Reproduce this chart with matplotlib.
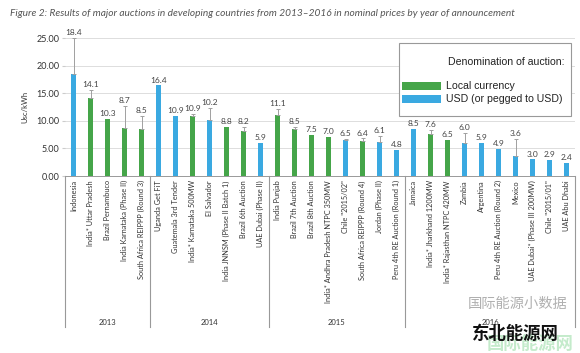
import numpy as np
import matplotlib
matplotlib.use("Agg")
import matplotlib.pyplot as plt
from matplotlib.patches import Rectangle
import matplotlib.transforms as mtransforms

# auction names, values (Usc/kWh), upper end of the range, currency flag
names = ["Indonesia", "India* Uttar Pradesh", "Brazil Pernambuco", "India Karnataka (Phase II)",
         "South Africa REIPPP (Round 3)",
         "Uganda Get FiT", "Guatemala 3rd Tender", "India* Karnataka 500MW", "El Salvador",
         "India JNNSM (Phase II Batch 1)", "Brazil 6th Auction", "UAE Dubai (Phase II)",
         "India Punjab", "Brazil 7th Auction", "Brazil 8th Auction", "India* Andhra Pradesh NTPC 350MW",
         "Chile \"2015/02\"", "South Africa REIPPP (Round 4)", "Jordan (Phase II)",
         "Peru 4th RE Auction (Round 1)",
         "Jamaica", "India* Jharkhand 1200MW", "India* Rajasthan NTPC 420MW", "Zambia", "Argentina",
         "Peru 4th RE Auction (Round 2)", "Mexico", "UAE Dubai* (Phase III 200MW)", "Chile \"2015/01\"",
         "UAE Abu Dhabi"]
values = [18.4, 14.1, 10.3, 8.7, 8.5,
          16.4, 10.9, 10.9, 10.2, 8.8, 8.2, 5.9,
          11.1, 8.5, 7.5, 7.0, 6.5, 6.4, 6.1, 4.8,
          8.5, 7.6, 6.5, 6.0, 5.9, 4.9, 3.6, 3.0, 2.9, 2.4]
upper = [25.0, 15.6, None, 12.7, 10.8,
         None, None, 11.3, 12.3, None, 8.9, None,
         12.1, 8.8, None, None, 6.7, 6.8, 7.2, None,
         None, 8.3, None, 7.8, None, None, 6.7, None, None, None]
local = ["U", "L", "L", "L", "L",
         "U", "U", "L", "U", "L", "L", "U",
         "L", "L", "L", "L", "U", "L", "U", "U",
         "U", "L", "L", "U", "U", "U", "U", "U", "U", "U"]
years = ["2013", "2014", "2015", "2016"]
year_counts = [5, 7, 8, 10]
legend_labels = ["Local currency", "USD (or pegged to USD)"]

green = "#45a549"
blue = "#3aa9e1"

W, H = 580, 353
fig = plt.figure(figsize=(5.8, 3.53), dpi=100)
ax = fig.add_axes([65/W, 177/H, 510/W, 138/H])

x = np.arange(len(values))
cols = [green if c == "L" else blue for c in local]
ax.bar(x, values, width=0.32, color=cols, zorder=3)

for i, v in enumerate(values):
    top = v
    if upper[i] is not None:
        ax.errorbar(i, v, yerr=[[0], [upper[i] - v]], fmt="none", ecolor="#a0a0a0",
                    elinewidth=0.7, capsize=1.5, capthick=0.7, zorder=4)
        top = upper[i]
    ax.text(i, top + 0.35, f"{v:.1f}", ha="center", va="bottom", fontsize=6,
            color="#444444", family="Lato")

ax.set_xlim(-0.5, len(values) - 0.5)
ax.set_ylim(0, 25)
ax.set_yticks(np.arange(0, 26, 5))
ax.set_yticklabels([f"{t:.2f}" for t in np.arange(0, 26, 5)], fontsize=6.5, family="Lato", color="#333333")
ax.set_ylabel("Usc/kWh", fontsize=5.5, family="Lato", color="#333333", labelpad=6)
ax.grid(axis="y", color="#dddddd", lw=0.7, zorder=0)
ax.set_xticks(x)
ax.set_xticklabels(names, rotation=90, fontsize=5.3, family="Lato", color="#333333")
ax.tick_params(axis="x", length=0, pad=3)
ax.tick_params(axis="y", length=2, color="#cccccc", pad=2)
for s in ["top", "right", "left"]:
    ax.spines[s].set_visible(False)
ax.spines["bottom"].set_color("#999999")
ax.spines["bottom"].set_linewidth(0.7)

# year group separators and labels
trans = mtransforms.blended_transform_factory(ax.transData, ax.transAxes)
bounds = np.concatenate([[0], np.cumsum(year_counts)]) - 0.5
for b in bounds:
    ax.plot([b, b], [0, -1.095], transform=trans, color="#999999", lw=0.8, clip_on=False)
for k, yr in enumerate(years):
    mid = (bounds[k] + bounds[k + 1]) / 2
    ax.text(mid, -1.06, yr, transform=trans, ha="center", va="center", fontsize=5.5,
            family="Lato", color="#333333")

# legend box drawn by hand
fig.add_artist(Rectangle((399/W, 1 - 116/H), 172/W, 73/H, transform=fig.transFigure,
                         facecolor="white", edgecolor="#999999", lw=0.8, zorder=5))
fig.text(564/W, 1 - 62/H, "Denomination of auction:", ha="right", va="center", fontsize=7.6,
         family="Liberation Sans", color="#222222", zorder=6)
for k, (lab, c) in enumerate(zip(legend_labels, [green, blue])):
    yc = 86 + 13 * k
    fig.add_artist(Rectangle((402/W, 1 - (yc + 4)/H), 39/W, 8/H, transform=fig.transFigure,
                             facecolor=c, edgecolor="none", zorder=6))
    fig.text(446/W, 1 - yc/H, lab, ha="left", va="center", fontsize=7.6,
             family="Liberation Sans", color="#222222", zorder=6)

fig.text(10/W, 1 - 14/H,
         "Figure 2: Results of major auctions in developing countries from 2013\u20132016 in nominal prices by year of announcement",
         fontsize=7.3, style="italic", color="#555555", family="Lato", va="center")

# watermarks
cjk = ["Noto Sans CJK SC", "DejaVu Sans"]
fig.text(468/W, 1 - 304/H, "国际能源小数据", fontsize=10.3, color="#b0b0b0", family=cjk, va="center")
fig.text(487/W, 1 - 344/H, "国际能源网", fontsize=12.5, color="#c4ebcb", fontweight="bold",
         family=cjk, va="center")
fig.text(472/W, 1 - 334/H, "东北能源网", fontsize=12.5, color="#111111", fontweight="bold",
         family=cjk, va="center")

fig.savefig("out.png", dpi=100, facecolor="white")
